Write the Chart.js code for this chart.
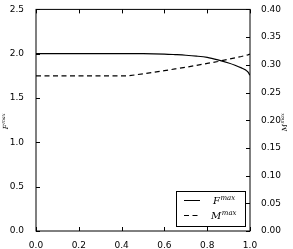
<!DOCTYPE html>
<html>
<head>
<meta charset="utf-8">
<script src="https://cdn.jsdelivr.net/npm/chart.js@4"></script>
<style>
  html, body { margin: 0; padding: 0; background: #fff; }
  #wrap { width: 293px; height: 249px; }
</style>
</head>
<body>
<div id="wrap"><canvas id="chart" width="293" height="249"></canvas></div>
<script>
const xValues = [0, 0.1, 0.2, 0.3, 0.4, 0.43, 0.5, 0.55, 0.6, 0.65, 0.7, 0.75, 0.8, 0.85, 0.9, 0.93, 0.96, 0.98, 0.99, 1.0];
const fMax = [2, 2, 2, 2, 2, 2, 2, 1.999, 1.996, 1.99, 1.983, 1.973, 1.958, 1.93, 1.895, 1.87, 1.84, 1.815, 1.795, 1.757];
const mMax = [0.28, 0.28, 0.28, 0.28, 0.28, 0.28, 0.2838, 0.2866, 0.2895, 0.2925, 0.2955, 0.299, 0.3025, 0.306, 0.31, 0.3125, 0.315, 0.317, 0.318, 0.3195];
const xTicks = [0, 0.2, 0.4, 0.6, 0.8, 1.0];

function drawSup(ctx, base, sup, x, y, size) {
  ctx.font = 'italic ' + size + 'px "DejaVu Serif"';
  ctx.fillText(base, x, y);
  const w = ctx.measureText(base).width;
  ctx.font = 'italic ' + (size * 0.7) + 'px "DejaVu Serif"';
  ctx.fillText(sup, x + w + 0.5, y - size * 0.42);
}

const framePlugin = {
  id: 'frame',
  afterDraw(chart) {
    const ctx = chart.ctx;
    const a = chart.chartArea;
    const xs = chart.scales.x, ys = chart.scales.y, y1 = chart.scales.y1;
    ctx.save();
    ctx.strokeStyle = '#000';
    ctx.lineWidth = 1;
    ctx.strokeRect(a.left, a.top, a.right - a.left, a.bottom - a.top);

    // inward ticks
    ctx.beginPath();
    xs.ticks.forEach(t => {
      const px = Math.round(xs.getPixelForValue(t.value)) + 0.5;
      ctx.moveTo(px, a.bottom); ctx.lineTo(px, a.bottom - 4);
      ctx.moveTo(px, a.top); ctx.lineTo(px, a.top + 4);
    });
    ys.ticks.forEach(t => {
      const py = Math.round(ys.getPixelForValue(t.value)) + 0.5;
      ctx.moveTo(a.left, py); ctx.lineTo(a.left + 4, py);
    });
    y1.ticks.forEach(t => {
      const py = Math.round(y1.getPixelForValue(t.value)) + 0.5;
      ctx.moveTo(a.right, py); ctx.lineTo(a.right - 4, py);
    });
    ctx.stroke();

    // axis titles
    ctx.fillStyle = '#000';
    ctx.textBaseline = 'alphabetic';
    ctx.save();
    ctx.translate(8, (a.top + a.bottom) / 2 + 9);
    ctx.rotate(-Math.PI / 2);
    drawSup(ctx, 'F', 'max', 0, 0, 7);
    ctx.restore();
    ctx.save();
    ctx.translate(287, (a.top + a.bottom) / 2 + 11);
    ctx.rotate(-Math.PI / 2);
    drawSup(ctx, 'M', 'max', 0, 0, 7);
    ctx.restore();

    // legend
    const bw = 69, bh = 35;
    const bx = a.right - 5 - bw, by = a.bottom - 5 - bh;
    ctx.fillStyle = '#fff';
    ctx.fillRect(bx, by, bw, bh);
    ctx.strokeRect(Math.round(bx) + 0.5, Math.round(by) + 0.5, bw, bh);
    ctx.beginPath();
    ctx.moveTo(bx + 8, by + 9.5); ctx.lineTo(bx + 24, by + 9.5);
    ctx.stroke();
    ctx.setLineDash([5, 3.5]);
    ctx.beginPath();
    ctx.moveTo(bx + 8, by + 24.5); ctx.lineTo(bx + 24, by + 24.5);
    ctx.stroke();
    ctx.setLineDash([]);
    ctx.fillStyle = '#000';
    drawSup(ctx, 'F', 'max', bx + 37, by + 13, 10);
    drawSup(ctx, 'M', 'max', bx + 35, by + 28, 10);
    ctx.restore();
  }
};

const ctx = document.getElementById('chart').getContext('2d');
const chart = new Chart(ctx, {
  type: 'line',
  data: {
    datasets: [{
      label: 'F max',
      data: xValues.map((x, i) => ({ x: x, y: fMax[i] })),
      yAxisID: 'y',
      borderColor: '#000',
      borderWidth: 1.2,
      pointRadius: 0,
      cubicInterpolationMode: 'monotone',
      fill: false
    }, {
      label: 'M max',
      data: xValues.map((x, i) => ({ x: x, y: mMax[i] })),
      yAxisID: 'y1',
      borderColor: '#000',
      borderWidth: 1.2,
      borderDash: [5, 3.5],
      pointRadius: 0,
      tension: 0,
      fill: false
    }]
  },
  options: {
    responsive: false,
    animation: false,
    layout: { padding: { top: 9, left: 0, right: 0, bottom: 0 } },
    plugins: { legend: { display: false }, tooltip: { enabled: false } },
    scales: {
      x: {
        type: 'linear',
        min: 0, max: 1,
        afterBuildTicks: s => { s.ticks = xTicks.map(v => ({ value: v })); },
        ticks: { callback: v => v.toFixed(1), font: { family: 'DejaVu Sans', size: 9 }, color: '#000', padding: 1, maxRotation: 0 },
        grid: { display: false },
        border: { display: false },
        afterFit: s => { s.height = 18; }
      },
      y: {
        position: 'left',
        min: 0, max: 2.5,
        ticks: { stepSize: 0.5, callback: v => v.toFixed(1), font: { family: 'DejaVu Sans', size: 9 }, color: '#000', padding: 4 },
        grid: { display: false },
        border: { display: false },
        afterFit: s => { s.width = 36; }
      },
      y1: {
        position: 'right',
        min: 0, max: 0.4,
        ticks: { stepSize: 0.05, callback: v => v.toFixed(2), font: { family: 'DejaVu Sans', size: 9 }, color: '#000', padding: 3 },
        grid: { display: false },
        border: { display: false },
        afterFit: s => { s.width = 43; }
      }
    }
  },
  plugins: [framePlugin]
});
</script>
</body>
</html>
